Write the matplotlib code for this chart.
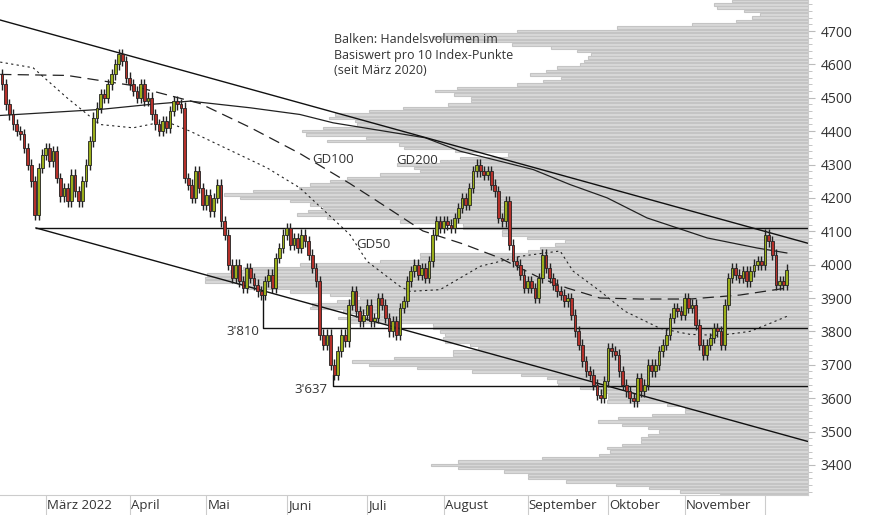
import numpy as np
import pandas as pd
import matplotlib
matplotlib.use("Agg")
from matplotlib import pyplot as plt
import matplotlib.transforms as mtrans

plt.rcParams['font.family'] = ['Open Sans', 'DejaVu Sans']

# trading days (index 0 = 11 Feb 2022)
dates = pd.bdate_range("2022-02-11", "2022-12-09")

closes = [4540, 4480, 4450, 4420, 4400, 4390, 4350, 4300, 4250, 4150,
          4290, 4330, 4350, 4310, 4340, 4260, 4205, 4230, 4190, 4270,
          4220, 4190, 4250, 4300, 4370, 4440, 4470, 4510, 4500, 4540,
          4570, 4600, 4630, 4610, 4560, 4540, 4520, 4500, 4540, 4490,
          4500, 4450, 4420, 4400, 4430, 4410, 4460, 4490, 4480, 4470,
          4260, 4240, 4200, 4280, 4230, 4180, 4210, 4160, 4200, 4240,
          4130, 4090, 4000, 3960, 4000, 3950, 3930, 3990, 3960, 3940,
          3920, 3910, 3950, 3970, 3930, 4020, 4050, 4090, 4110, 4060,
          4080, 4050, 4090, 4070, 4030, 3990, 3950, 3790, 3760, 3790,
          3700, 3670, 3740, 3790, 3770, 3880, 3920, 3860, 3830, 3850,
          3880, 3830, 3840, 3900, 3880, 3840, 3800, 3830, 3790, 3870,
          3890, 3950, 3980, 4000, 3970, 3990, 3960, 4010, 4090, 4130,
          4110, 4130, 4120, 4110, 4140, 4170, 4200, 4180, 4230, 4280,
          4300, 4280, 4270, 4280, 4240, 4220, 4140, 4130, 4190, 4060,
          4010, 4000, 3970, 3930, 3950, 3930, 3900, 3960, 4030, 3990,
          3960, 3940, 3920, 3910, 3890, 3900, 3850, 3800, 3760, 3710,
          3680, 3670, 3640, 3610, 3600, 3650, 3750, 3740, 3730, 3680,
          3640, 3620, 3600, 3590, 3660, 3620, 3640, 3700, 3680, 3700,
          3740, 3760, 3790, 3840, 3870, 3860, 3850, 3900, 3870, 3880,
          3820, 3760, 3730, 3760, 3780, 3810, 3800, 3760, 3880, 3960,
          3990, 3970, 3960, 3980, 3950, 3980, 4000, 4010, 4000, 4090,
          4070, 4030, 3940, 3950, 3940, 3985]
opens = [closes[0] + 30] + closes[:-1]

# moving averages (day index, value)
gd50_x = [-0.5, 8.5, 17.8, 26.8, 35.9, 40.5, 44.7, 51.5, 72.6, 81.6, 95.3, 100, 109, 111.8,
          120, 131, 142, 152.9, 156.4, 163.8, 170.7, 180.3, 188.5, 196.7, 204.9, 210.4, 215]
gd50_y = [4607, 4590, 4500, 4420, 4410, 4420, 4430, 4400, 4290, 4230, 4090, 4010, 3935, 3920,
          3925, 3995, 4025, 4041, 3981, 3921, 3860, 3809, 3791, 3788, 3800, 3824, 3845]
gd100_x = [-0.5, 17.8, 35, 54.2, 68, 81.6, 95.3, 102.7, 115.3, 126.3, 136.4, 147.4, 154.8,
           163.8, 174.8, 188.5, 202.2, 215]
gd100_y = [4570, 4567, 4538, 4483, 4411, 4333, 4243, 4191, 4101, 4062, 4020, 3960, 3930,
           3900, 3897, 3897, 3909, 3930]
gd200_x = [-0.5, 26.8, 40.5, 51.5, 68, 81.6, 90.7, 116, 125.5, 136.4, 145.5, 155.6, 165.8,
           176.7, 193.2, 206.8, 215]
gd200_y = [4447, 4465, 4480, 4490, 4470, 4450, 4425, 4380, 4340, 4310, 4285, 4240, 4200,
           4140, 4080, 4050, 4035]

# trend channel and support lines
trend_top_x = [-0.5, 220.8]
trend_top_y = [4733, 4064]
trend_bot_x = [9.3, 220.8]
trend_bot_y = [4110, 3470]
supports = [(9.3, 4110, 4110), (71.5, 3920, 3810), (90.7, 3670, 3637)]

# volume profile: price bins (10 points) and bar left edge in pixel units
prof_levels = list(range(4790, 3300, -10))
prof_left = [732, 714, 717, 744, 760, 752, 736, 692, 617, 517,
             444, 432, 466, 512, 551, 577, 591, 588, 584, 580,
             557, 546, 530, 561, 543, 517, 457, 435, 454, 471,
             471, 448, 403, 369, 335, 329, 355, 357, 323, 302,
             306, 366, 327, 399, 404, 455, 508, 460, 440, 397,
             414, 420, 380, 347, 330, 310, 299, 253, 224, 240,
             290, 310, 323, 308, 297, 327, 400, 463, 463, 502,
             502, 527, 565, 555, 540, 528, 420, 420, 380, 300,
             243, 230, 207, 205, 205, 248, 248, 290, 330, 360,
             337, 312, 310, 343, 380, 338, 350, 433, 433, 440,
             445, 443, 445, 470, 478, 453, 453, 394, 352, 369,
             417, 472, 521, 547, 557, 558, 580, 600, 608, 608,
             607, 667, 685, 685, 652, 618, 598, 622, 648, 659,
             648, 641, 641, 622, 607, 610, 599, 542, 458, 431,
             458, 504, 528, 528, 566, 616, 649, 680, 720]
prof_vol = [808 - v for v in prof_left]

month_pos = [12, 35, 56, 78, 100, 121, 144, 166, 187, 209]
month_lab = ["März 2022", "April", "Mai", "Juni", "Juli", "August",
             "September", "Oktober", "November", ""]

fig = plt.figure(figsize=(8.74, 5.15), dpi=100)
ax = fig.add_axes([0, 0.039, 808 / 874, 0.961])
ax2 = ax.twiny()
ax.set_zorder(2)
ax.patch.set_visible(False)

# volume profile behind
ax2.barh(prof_levels, prof_vol, height=7.5, left=0, color='#d9d9d9',
         edgecolor='#c4c4c4', linewidth=0.8)
ax2.set_xlim(808, 0)
ax2.axis('off')

xs = np.arange(len(closes))
for i, (o, c) in enumerate(zip(opens, closes)):
    col = '#9aae1a' if c >= o else '#b5302a'
    lo, hi = min(o, c), max(o, c)
    ax.vlines(i, lo - 16, hi + 16, color='#222222', linewidth=1, zorder=3)
    ax.bar(i, max(hi - lo, 3), bottom=lo, width=0.75, color=col,
           edgecolor='#222222', linewidth=0.6, zorder=4)

ax.plot(gd50_x, gd50_y, color='#222222', lw=0.8, ls=(0, (2, 3)), zorder=2)
ax.plot(gd100_x, gd100_y, color='#222222', lw=0.9, ls=(0, (9, 5)), zorder=2)
ax.plot(gd200_x, gd200_y, color='#222222', lw=0.9, zorder=2)
ax.plot(trend_top_x, trend_top_y, color='#111111', lw=1, zorder=2)
ax.plot(trend_bot_x, trend_bot_y, color='#111111', lw=1, zorder=2)
for x0, ytop, lvl in supports:
    ax.plot([x0, x0, 220.8], [ytop, lvl, lvl], color='#111111', lw=1, zorder=2)

tc = '#333333'
ax.text(85, 4305, "GD100", fontsize=9.5, color=tc)
ax.text(108, 4302, "GD200", fontsize=9.5, color=tc)
ax.text(97, 4050, "GD50", fontsize=9.5, color=tc)
ax.text(61.5, 3790, "3'810", fontsize=9.5, color=tc)
ax.text(80, 3615, "3'637", fontsize=9.5, color=tc)
ax.text(91, 4570, "Balken: Handelsvolumen im\nBasiswert pro 10 Index-Punkte\n(seit März 2020)",
        fontsize=9, color=tc, linespacing=1.25)

ax.set_xlim(-0.55, 220.8)
ax.set_ylim(3310, 4793)
ax.yaxis.tick_right()
ax.set_yticks(range(3400, 4701, 100))
ax.set_yticks(range(3320, 4790, 20), minor=True)
ax.tick_params(axis='y', which='major', length=5, color='#bbbbbb', labelsize=10,
               labelcolor=tc, pad=4)
ax.tick_params(axis='y', which='minor', length=3, color='#bbbbbb')
for s in ['top', 'left']:
    ax.spines[s].set_visible(False)
ax.spines['bottom'].set_color('#cccccc')
ax.spines['right'].set_color('#cccccc')

ax.set_xticks(month_pos)
ax.set_xticklabels([])
ax.tick_params(axis='x', length=22, color='#cccccc')
trans = mtrans.blended_transform_factory(ax.transData, ax.transAxes)
for p, lab in zip(month_pos, month_lab):
    ax.text(p + 0.3, -0.008, lab, transform=trans, fontsize=9.5, color=tc,
            va='top', ha='left')

fig.savefig("out.png", dpi=100)
